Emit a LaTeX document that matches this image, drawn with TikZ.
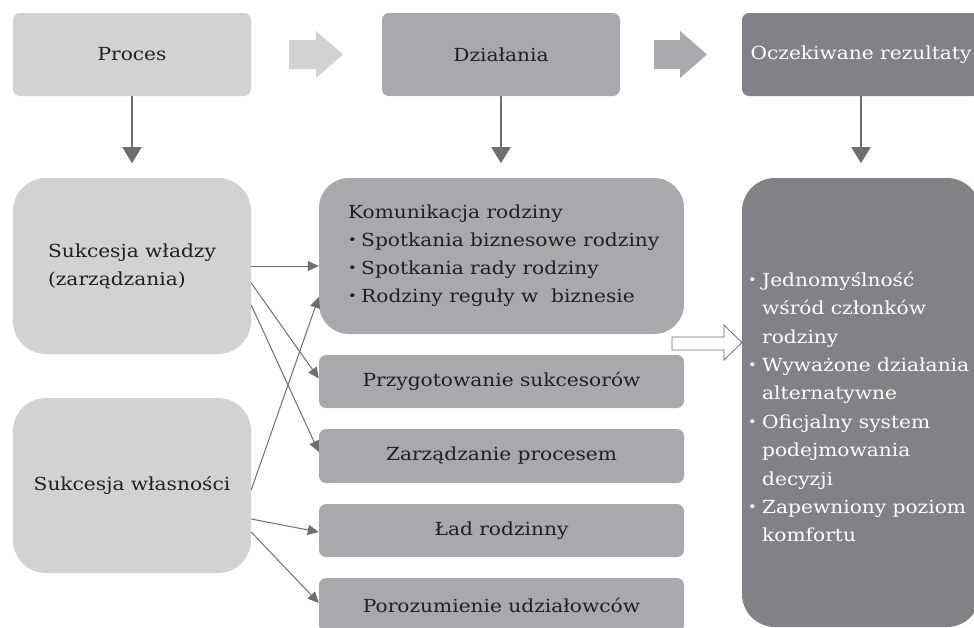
\documentclass[tikz,border=0pt]{standalone}
\usepackage{fontspec}
\setmainfont{DejaVu Serif}[FakeStretch=1.12]
\usetikzlibrary{calc,arrows.meta}
\definecolor{cL}{HTML}{D1D2D4}
\definecolor{cM}{HTML}{A7A9AC}
\definecolor{cD}{HTML}{808285}
\definecolor{cA}{HTML}{6D6E71}
\definecolor{cT}{HTML}{231F20}
\newcommand{\kbul}{\makebox[13pt][l]{\raisebox{1.5pt}{\fontsize{13}{13}\selectfont •}}}
\newcommand{\rbul}{\makebox[14pt][l]{\raisebox{1.5pt}{\fontsize{13}{13}\selectfont •}}}
\newcommand{\rind}{\hspace*{14pt}}
\begin{document}
\begin{tikzpicture}[x=1pt,y=-1pt,
  every node/.style={font=\fontsize{18}{28}\selectfont, text=cT, inner sep=0pt},
  topbox/.style={rectangle, rounded corners=7pt, minimum width=238pt, minimum height=83pt},
  leftbox/.style={rectangle, rounded corners=33pt, minimum width=238pt, align=left},
  actbox/.style={rectangle, fill=cM, rounded corners=7pt, minimum width=365pt},
  link/.style={draw=cA, line width=1pt, -{Triangle[length=11pt,width=10pt]}},
  down/.style={draw=cA, line width=2pt, -{Triangle[length=16pt,width=19pt]}},
]
\useasboundingbox (0,0) rectangle (974,627);

% top row
\node[topbox, fill=cL] (proc) at (132,54.5) {Proces};
\node[topbox, fill=cM] (dzia) at (501,54.5) {Działania};
\node[topbox, fill=cD, text=white] (ocz) at (861,54.5) {Oczekiwane rezultaty};

% block arrows between top boxes
\fill[cL] (289,40) -- (316,40) -- (316,31) -- (343,54.5) -- (316,78) -- (316,69) -- (289,69) -- cycle;
\fill[cM] (654,40) -- (680,40) -- (680,31) -- (707,54.5) -- (680,78) -- (680,69) -- (654,69) -- cycle;

% left column
\node[leftbox, fill=cL, minimum height=176pt] (sw) at (132,266) {Sukcesja władzy\\(zarządzania)};
\node[leftbox, fill=cL, minimum height=175pt] (swl) at (132,485.5) {Sukcesja własności};

% middle column
\node[actbox, rounded corners=30pt, minimum height=156pt] (kom) at (501.5,256) {};
\node[anchor=west, align=left] (komtext) at (348,255.5) {Komunikacja rodziny\\\kbul Spotkania biznesowe rodziny\\\kbul Spotkania rady rodziny\\\kbul Rodziny reguły w\ \ biznesie};
\node[actbox, minimum height=53pt] (prz) at (501.5,381.5) {Przygotowanie sukcesorów};
\node[actbox, minimum height=54pt] (zar) at (501.5,456) {Zarządzanie procesem};
\node[actbox, minimum height=53pt] (lad) at (501.5,530.5) {Ład rodzinny};
\node[actbox, minimum height=54pt] (por) at (501.5,605) {Porozumienie udziałowców};

% right column
\node[rectangle, fill=cD, rounded corners=33pt, minimum width=238pt, minimum height=449pt] (res) at (861,402.5) {};
\node[anchor=west, align=left, text=white, font=\fontsize{18}{28.4}\selectfont] (restext) at (748,407) {\rbul Jednomyślność\\\rind wśród członków\\\rind rodziny\\\rbul Wyważone działania\\\rind alternatywne\\\rbul Oficjalny system\\\rind podejmowania\\\rind decyzji\\\rbul Zapewniony poziom\\\rind komfortu};

% hollow arrow
\draw[draw=cA, fill=white, line width=0.8pt] (672,337) -- (724,337) -- (724,325) -- (742,342.5) -- (724,360) -- (724,350) -- (672,350) -- cycle;

% down arrows
\coordinate (d1) at ($(proc.south)+(0,67)$);
\coordinate (d2) at ($(dzia.south)+(0,67)$);
\coordinate (d3) at ($(ocz.south)+(0,67)$);
\draw[down] (proc.south) -- (d1);
\draw[down] (dzia.south) -- (d2);
\draw[down] (ocz.south) -- (d3);

% links
\draw[link] ($(sw.east)+(0,0)$) -- ($(kom.west)+(0,10)$);
\draw[link] ($(sw.east)+(0,17)$) -- ($(prz.west)+(0,-3)$);
\draw[link] ($(sw.east)+(0,39)$) -- ($(zar.west)+(0,-4)$);
\draw[link] ($(swl.east)+(0,4.5)$) -- ($(kom.west)+(0,41)$);
\draw[link] ($(swl.east)+(0,33.5)$) -- ($(lad.west)+(0,1.5)$);
\draw[link] ($(swl.east)+(0,46.5)$) -- ($(por.west)+(0,-2)$);
\end{tikzpicture}
\end{document}
